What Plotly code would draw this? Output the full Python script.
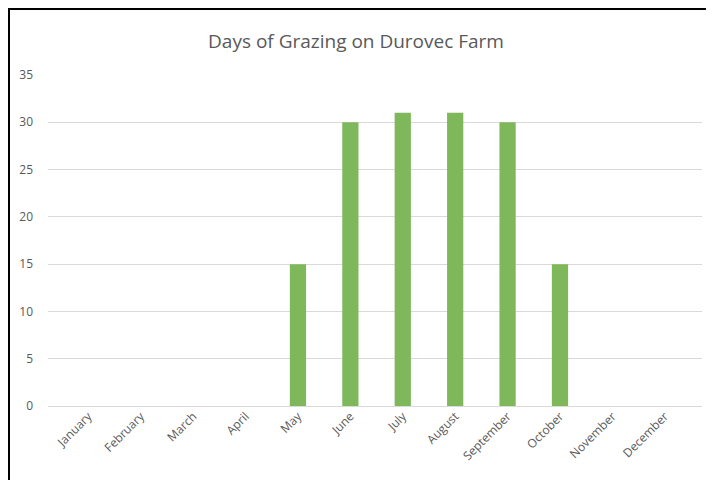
import plotly.graph_objects as go

months = ["January", "February", "March", "April", "May", "June", "July",
          "August", "September", "October", "November", "December"]
days = [0, 0, 0, 0, 15, 30, 31, 31, 30, 15, 0, 0]
y_ticks = [0, 5, 10, 15, 20, 25, 30, 35]

# page body has an 8px offset; figure coordinates below are window - 8
W, H = 706, 472
L, R, T, B = 40, 12, 67, 74
pw, ph = W - L - R, H - T - B

def px(x):
    return (x - L) / pw

def py(y):
    return (H - B - y) / ph

fig = go.Figure(go.Bar(
    x=list(range(12)), y=days, marker_color="#7FB85B", marker_line_width=0,
))

border_path = "M {:.5f},{:.5f} L {:.5f},{:.5f} L {:.5f},{:.5f}".format(
    px(1), py(H + 4), px(1), py(1), px(W + 4), py(1))

fig.update_layout(
    width=W, height=H,
    margin=dict(l=L, r=R, t=T, b=B),
    paper_bgcolor="white", plot_bgcolor="white",
    bargap=0.69,
    showlegend=False,
    font=dict(family="Open Sans", color="#595959"),
    title=dict(text="Days of Grazing on Durovec Farm", x=px(348), xanchor="center",
               y=1 - 33 / H, yanchor="middle", xref="paper",
               font=dict(size=19, color="#595959", family="Open Sans")),
    xaxis=dict(tickmode="array", tickvals=list(range(12)), ticktext=months,
               tickangle=-45, range=[-0.77, 11.71], showgrid=False,
               showline=False, zeroline=False, ticks="",
               tickfont=dict(size=12, color="#595959")),
    yaxis=dict(range=[0, 35], tickvals=y_ticks, showgrid=True,
               gridcolor="#D9D9D9", gridwidth=1, zeroline=True,
               zerolinecolor="#D9D9D9", zerolinewidth=1, showline=False,
               ticks="", ticklabelstandoff=14,
               tickfont=dict(size=12, color="#595959")),
    shapes=[
        dict(type="path", xref="paper", yref="paper", path=border_path,
             line=dict(color="black", width=2)),
    ],
)

fig.write_html("out.html")
